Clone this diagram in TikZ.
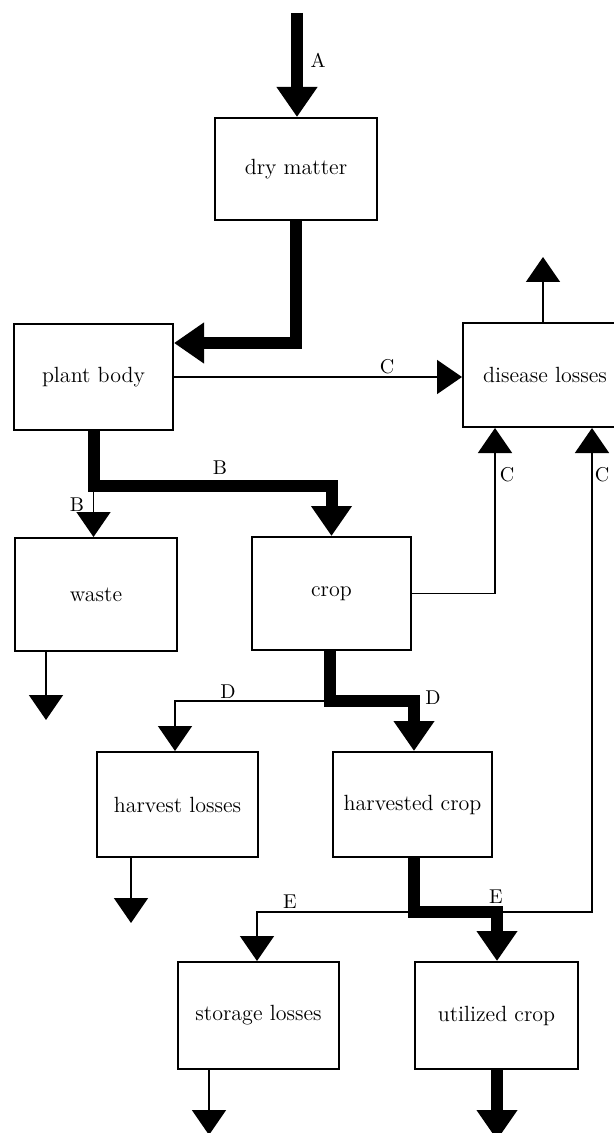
\documentclass[tikz,border=0pt]{standalone}
\usetikzlibrary{arrows.meta}
\begin{document}
\begin{tikzpicture}[x=0.5pt,y=-0.5pt,
  box/.style={draw,line width=1pt,inner sep=0pt,font=\fontsize{11}{13}\selectfont},
  thinln/.style={line width=0.8pt,-{Triangle[length=12.5pt,width=17pt]}},
  thickln/.style={line width=6pt,-{Triangle[length=15pt,width=19.5pt]}},
  plainthin/.style={line width=0.8pt},
  lbl/.style={inner sep=0pt,font=\fontsize{10}{12}\selectfont}]
\useasboundingbox (0,0) rectangle (614,1133);
% boxes
\node[box,minimum width=81pt,minimum height=51pt] (dry) at (296,169) {dry matter};
\node[box,minimum width=79.5pt,minimum height=53pt] (plant) at (93.5,377) {plant body};
\node[box,minimum width=82pt,minimum height=52pt] (disease) at (545,375) {disease losses};
\node[box,minimum width=81pt,minimum height=56.5pt] (waste) at (96,594.5) {waste};
\node[box,minimum width=79.5pt,minimum height=56.5pt] (crop) at (331.5,593.5) {crop};
\node[box,minimum width=80.5pt,minimum height=52.5pt] (hloss) at (177.5,804.5) {harvest losses};
\node[box,minimum width=79.5pt,minimum height=52.5pt] (harv) at (412.5,804.5) {harvested crop};
\node[box,minimum width=80.5pt,minimum height=53.5pt] (stor) at (258.5,1015.5) {storage losses};
\node[box,minimum width=81.5pt,minimum height=53.5pt] (util) at (496.5,1015.5) {utilized crop};
% free ends
\coordinate (Atop) at (297,13);
\coordinate (dtop) at (543,257);
\coordinate (wout) at (46,720);
\coordinate (hout) at (131,923);
\coordinate (sout) at (209,1135);
\coordinate (uout) at (497,1140);
\coordinate (jB) at (93.5,486);
\coordinate (jD) at (330,701);
\coordinate (jE) at (414,912);
% A
\draw[thickln] (Atop) -- (Atop |- dry.north);
\node[lbl] (lA) at (318,60) {A};
% dry -> plant
\draw[thickln] (dry.south) |- (plant.east |- 0,343);
% plant -> disease
\draw[thinln] (plant.east) -- (plant.east -| disease.west);
\node[lbl] (lC1) at (387,367) {C};
% disease up
\draw[thinln] (dtop |- disease.north) -- (dtop);
% B
\draw[thickln] (plant.south) -- (jB) -| (crop.north);
\draw[thinln] (jB) -- (jB |- waste.north);
\node[lbl] (lB1) at (220,468) {B};
\node[lbl] (lB2) at (77,505) {B};
% waste out
\draw[thinln] (wout |- waste.south) -- (wout);
% crop -> disease
\draw[thinln] (crop.east) -| (disease.south -| 495,0);
\node[lbl] (lC2) at (507,475) {C};
% D
\draw[thickln] (jD |- crop.south) -- (jD) -| (harv.north -| 414,0);
\draw[thinln] (jD) -| (hloss.north -| 175,0);
\node[lbl] (lD1) at (228,692) {D};
\node[lbl] (lD2) at (433,698) {D};
% harvest losses out
\draw[thinln] (hout |- hloss.south) -- (hout);
% E
\draw[thinln] (jE) -| (disease.south -| 592,0);
\node[lbl] (lC3) at (602,475) {C};
\draw[thinln] (jE) -| (stor.north -| 257,0);
\draw[thickln] (jE |- harv.south) -- (jE) -| (util.north -| 497,0);
\node[lbl] (lE1) at (290,902) {E};
\node[lbl] (lE2) at (496,897) {E};
% outs
\draw[thinln] (sout |- stor.south) -- (sout);
\draw[thickln] (uout |- util.south) -- (uout);
\end{tikzpicture}
\end{document}
